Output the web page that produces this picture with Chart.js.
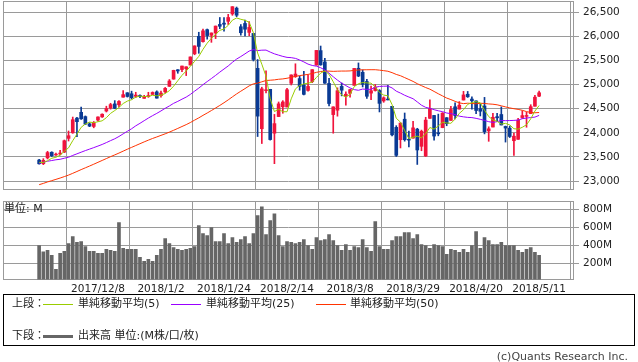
<!DOCTYPE html>
<html>
<head>
<meta charset="utf-8">
<script src="https://cdn.jsdelivr.net/npm/chart.js@4.4.1/dist/chart.umd.min.js"></script>
<style>
  body { margin: 0; background: #fff; width: 638px; height: 362px; position: relative; overflow: hidden;
         font-family: "DejaVu Sans", "Noto Sans CJK JP", sans-serif; color: #222; }
  canvas { position: absolute; left: 0; }
  #price { top: 0; }
  #volume { top: 195px; }
  .txt { position: absolute; font-size: 11px; line-height: 14px; white-space: nowrap; }
  .swatch { position: absolute; }
  #legend { position: absolute; left: 3px; top: 294px; width: 630px; height: 50px; border: 1px solid #000; }
</style>
</head>
<body>
<canvas id="price" width="638" height="195"></canvas>
<canvas id="volume" width="638" height="100"></canvas>
<div class="txt" style="left:4px;top:202px;">単位: M</div>

<div id="legend"></div>
<div class="txt" style="left:12px;top:297px;">上段：</div>
<div class="swatch" style="left:43px;top:304px;width:30px;height:1px;background:#99cc00;"></div>
<div class="txt" style="left:78px;top:297px;">単純移動平均(5)</div>
<div class="swatch" style="left:171px;top:304px;width:30px;height:1px;background:#9900ff;"></div>
<div class="txt" style="left:206px;top:297px;">単純移動平均(25)</div>
<div class="swatch" style="left:316px;top:304px;width:30px;height:1px;background:#ff3300;"></div>
<div class="txt" style="left:350px;top:297px;">単純移動平均(50)</div>
<div class="txt" style="left:12px;top:329px;">下段：</div>
<div class="swatch" style="left:43px;top:335px;width:30px;height:3px;background:#666;"></div>
<div class="txt" style="left:78px;top:329px;">出来高 単位:(M株/口/枚)</div>
<div class="txt" style="right:10px;top:350px;color:#444;">(c)Quants Research Inc.</div>

<script>
var dates = [
  '2017/11/17','2017/11/20','2017/11/21','2017/11/22','2017/11/24','2017/11/27','2017/11/28','2017/11/29','2017/11/30',
  '2017/12/1','2017/12/4','2017/12/5','2017/12/6','2017/12/7','2017/12/8','2017/12/11','2017/12/12','2017/12/13',
  '2017/12/14','2017/12/15','2017/12/18','2017/12/19','2017/12/20','2017/12/21','2017/12/22','2017/12/26','2017/12/27',
  '2017/12/28','2017/12/29','2018/1/2','2018/1/3','2018/1/4','2018/1/5','2018/1/8','2018/1/9','2018/1/10','2018/1/11',
  '2018/1/12','2018/1/16','2018/1/17','2018/1/18','2018/1/19','2018/1/22','2018/1/23','2018/1/24','2018/1/25','2018/1/26',
  '2018/1/29','2018/1/30','2018/1/31','2018/2/1','2018/2/2','2018/2/5','2018/2/6','2018/2/7','2018/2/8','2018/2/9',
  '2018/2/12','2018/2/13','2018/2/14','2018/2/15','2018/2/16','2018/2/20','2018/2/21','2018/2/22','2018/2/23','2018/2/26',
  '2018/2/27','2018/2/28','2018/3/1','2018/3/2','2018/3/5','2018/3/6','2018/3/7','2018/3/8','2018/3/9','2018/3/12',
  '2018/3/13','2018/3/14','2018/3/15','2018/3/16','2018/3/19','2018/3/20','2018/3/21','2018/3/22','2018/3/23','2018/3/26',
  '2018/3/27','2018/3/28','2018/3/29','2018/4/2','2018/4/3','2018/4/4','2018/4/5','2018/4/6','2018/4/9','2018/4/10',
  '2018/4/11','2018/4/12','2018/4/13','2018/4/16','2018/4/17','2018/4/18','2018/4/19','2018/4/20','2018/4/23','2018/4/24',
  '2018/4/25','2018/4/26','2018/4/27','2018/4/30','2018/5/1','2018/5/2','2018/5/3','2018/5/4','2018/5/7','2018/5/8',
  '2018/5/9','2018/5/10','2018/5/11'
];

var open = [
  23435,23359,23480,23597,23540,23560,23600,23885,24000,24305,24425,24336,24186,24132,24264,24330,24452,24515,24600,24582,
  24739,24830,24810,24757,24775,24715,24750,24796,24849,24770,24850,24964,25114,25308,25312,25331,25406,25638,26000,25890,
  26140,26022,26070,26248,26275,26313,26466,26585,26200,26268,26083,26061,25337,24085,24875,24902,23992,24337,24540,24535,
  25027,25165,25125,24990,24880,25062,25404,25705,25470,25025,24378,24469,24963,24765,24819,24985,25339,25254,25064,24823,
  24877,24877,24661,24700,24550,24113,23857,24282,23866,23890,24076,23720,23520,24300,24360,24000,24108,24313,24257,24540,
  24492,24680,24800,24700,24662,24500,24557,24040,24120,24335,24380,24132,24097,23836,23865,24317,24341,24399,24551,24760
];
var high = [
  23452,23464,23617,23607,23578,23638,23851,24038,24327,24322,24534,24350,24208,24235,24330,24396,24552,24613,24668,24671,
  24876,24833,24864,24841,24790,24778,24841,24849,24871,24864,24941,25105,25299,25311,25386,25370,25575,25804,26086,26154,
  26153,26072,26215,26392,26392,26458,26617,26609,26246,26338,26306,26062,25520,24946,25285,24903,24382,24640,24667,24924,
  25203,25432,25179,25273,25201,25310,25709,25800,25543,25130,24540,24933,25033,24852,24903,25336,25449,25305,25109,24968,
  25003,24896,24747,24984,24550,24148,24205,24411,24034,24237,24094,24057,24322,24683,24363,24388,24419,24316,24549,24622,
  24648,24860,24858,24747,24663,24602,24735,24125,24403,24406,24538,24140,24140,23997,24300,24457,24429,24583,24776,24868
];
var low = [
  23350,23340,23458,23508,23530,23539,23590,23830,23990,23922,24276,24174,24128,24104,24241,24321,24432,24491,24499,24535,
  24739,24741,24701,24733,24728,24715,24735,24794,24719,24741,24825,24963,25112,25235,25266,25187,25406,25619,25649,25878,
  25943,25877,25954,26159,26107,26246,26437,26408,26025,26009,26014,25490,23923,23778,24830,23849,23360,24337,24406,24535,
  24992,25149,24884,24784,24862,25040,25404,25401,25025,24560,23992,24345,24766,24576,24738,24985,25164,24951,24714,24689,
  24865,24433,24633,24680,23938,23509,23686,23827,23707,23890,23344,23628,23509,24300,23849,23938,24104,24147,24257,24290,
  24492,24680,24734,24490,24397,24350,23978,23824,24120,24237,24163,23808,23902,23531,23865,24298,24116,24399,24551,24751
];
var close = [
  23358,23430,23590,23526,23558,23580,23836,23940,24272,24231,24290,24180,24140,24211,24329,24386,24504,24585,24508,24651,
  24792,24754,24726,24782,24754,24746,24774,24837,24719,24824,24922,25075,25295,25283,25385,25369,25574,25803,25792,26115,
  26017,26071,26214,26210,26252,26392,26616,26439,26076,26149,26186,25521,24346,24912,24893,23860,24191,24601,24640,24893,
  25200,25219,24964,24798,24962,25310,25709,25410,25029,24608,24538,24874,24884,24801,24895,25336,25178,25007,24758,24873,
  24946,24611,24727,24683,23958,23533,24202,23857,23849,24103,23644,24033,24264,24505,23933,23979,24408,24189,24483,24360,
  24573,24786,24748,24665,24463,24448,24024,24083,24322,24311,24163,24099,23924,23930,24263,24357,24360,24542,24739,24831
];
var ma5 = [
  23387,23385,23421,23472,23492,23537,23618,23688,23837,23972,24114,24183,24223,24210,24230,24249,24314,24403,24462,24527,
  24608,24658,24686,24741,24762,24752,24756,24779,24766,24780,24815,24875,24967,25080,25192,25281,25381,25483,25585,25731,
  25860,25960,26042,26125,26153,26228,26337,26382,26355,26334,26293,26074,25656,25423,25172,24706,24440,24491,24437,24437,
  24705,24911,24983,25015,25029,25051,25149,25238,25284,25213,25059,24892,24787,24741,24798,24958,25019,25043,25035,25030,
  24952,24839,24783,24768,24585,24302,24221,24047,23880,23909,23931,23897,23979,24110,24076,24143,24218,24203,24198,24284,
  24403,24478,24590,24626,24647,24622,24470,24337,24268,24238,24181,24196,24164,24085,24076,24115,24167,24290,24452,24566
];
var ma25 = [
  23371,23390,23410,23425,23441,23451,23473,23493,23531,23564,23598,23631,23662,23693,23725,23759,23797,23838,23876,23924,
  23979,24032,24084,24145,24197,24252,24306,24356,24403,24454,24508,24557,24611,24652,24698,24741,24797,24864,24927,24998,
  25063,25126,25191,25259,25323,25387,25462,25530,25582,25638,25696,25725,25706,25714,25716,25674,25638,25611,25585,25565,
  25559,25544,25511,25471,25425,25397,25382,25350,25303,25237,25163,25093,25031,24980,24930,24896,24882,24908,24902,24902,
  24945,24962,24967,24969,24931,24864,24824,24779,24742,24707,24641,24573,24528,24507,24480,24457,24439,24411,24398,24377,
  24346,24331,24320,24316,24300,24280,24257,24231,24216,24231,24256,24252,24254,24258,24264,24293,24306,24317,24326,24362
];
var ma50 = [
  22924,22951,22981,23008,23035,23062,23092,23123,23160,23198,23237,23274,23311,23349,23388,23427,23466,23505,23542,23580,
  23620,23660,23698,23736,23774,23812,23848,23883,23914,23947,23979,24015,24052,24091,24131,24170,24214,24263,24310,24362,
  24411,24462,24515,24568,24624,24683,24746,24807,24863,24917,24974,25016,25031,25058,25085,25091,25098,25111,25118,25132,
  25150,25171,25187,25199,25212,25230,25254,25271,25281,25280,25275,25278,25281,25281,25284,25296,25304,25307,25308,25309,
  25309,25300,25289,25277,25248,25211,25184,25145,25106,25066,25019,24978,24939,24905,24858,24810,24766,24721,24689,24653,
  24621,24606,24614,24609,24601,24613,24609,24599,24593,24581,24560,24538,24517,24500,24486,24467,24440,24422,24416,24421
];
// volume in millions
var volume = [
  396,326,341,285,130,307,330,418,496,430,441,385,330,330,307,307,352,341,330,652,
  363,352,352,352,263,219,241,219,285,352,474,418,374,352,341,352,363,385,618,529,
  507,596,441,441,529,418,485,430,463,496,418,529,729,829,518,674,751,507,385,441,
  430,418,430,463,396,352,485,452,463,518,452,396,341,407,341,385,374,463,374,330,
  663,385,352,352,452,496,496,541,541,474,518,407,396,363,407,396,385,296,352,341,
  319,352,319,396,552,363,485,452,407,407,430,396,396,396,341,319,352,374,319,285
];
var tickLabels = ['2017/12/8','2018/1/2','2018/1/24','2018/2/14','2018/3/8','2018/3/29','2018/4/20','2018/5/11'];
var priceTicks = [23000, 23500, 24000, 24500, 25000, 25500, 26000, 26500];
var volumeTicks = [200, 400, 600, 800];

var GRID = '#9a9a9a';
var UP = '#f0143c';
var DOWN = '#0a3a94';
var tickIdx = tickLabels.map(function (l) { return dates.indexOf(l); });

Chart.defaults.font.family = '"DejaVu Sans", "Noto Sans CJK JP", sans-serif';
Chart.defaults.color = '#222';

var frame = {
  id: 'frame',
  beforeDatasetsDraw: function (chart) {
    var a = chart.chartArea, ctx = chart.ctx;
    ctx.save();
    ctx.strokeStyle = GRID;
    ctx.lineWidth = 1;
    ctx.strokeRect(Math.round(a.left) + 0.5, Math.round(a.top) + 0.5,
                   Math.round(a.right) - Math.round(a.left) - 1, Math.round(a.bottom) - Math.round(a.top) - 1);
    ctx.restore();
  }
};

function xScale(showLabels) {
  return {
    type: 'linear', min: -8.6, max: 127.3, offset: false,
    afterBuildTicks: function (s) { s.ticks = tickIdx.map(function (v) { return { value: v }; }); },
    afterFit: function (s) { s.height = showLabels ? 15.5 : 0; s.paddingLeft = 0; s.paddingRight = 0; },
    grid: { color: GRID, drawTicks: false },
    border: { display: false },
    ticks: {
      display: showLabels, autoSkip: false, maxRotation: 0, padding: 3,
      font: { size: 10.5 }, color: '#222',
      callback: function (v) { return tickLabels[tickIdx.indexOf(v)]; }
    }
  };
}

function yScale(min, max, values, fmt) {
  return {
    position: 'right', min: min, max: max,
    afterBuildTicks: function (s) { s.ticks = values.map(function (v) { return { value: v }; }); },
    afterFit: function (s) { s.width = 64; s.paddingTop = 0; s.paddingBottom = 0; },
    grid: { color: GRID, tickLength: 5 },
    border: { display: false },
    ticks: { padding: 4, font: { size: 10.5 }, color: '#222', callback: fmt }
  };
}

var candleColors = close.map(function (c, i) { return c >= open[i] ? UP : DOWN; });

function pts(arr) { return arr.map(function (v, i) { return { x: i, y: v }; }); }

new Chart(document.getElementById('price'), {
  type: 'bar',
  data: {
    datasets: [
      { type: 'line', data: pts(ma5), borderColor: '#99cc00', borderWidth: 1, pointRadius: 0, order: 0 },
      { type: 'line', data: pts(ma25), borderColor: '#9900ff', borderWidth: 1, pointRadius: 0, order: 0 },
      { type: 'line', data: pts(ma50), borderColor: '#ff3300', borderWidth: 1, pointRadius: 0, order: 0 },
      {
        data: open.map(function (o, i) { return { x: i, y: [o, close[i]] }; }),
        backgroundColor: candleColors, barThickness: 3, grouped: false, order: 1
      },
      {
        data: low.map(function (l, i) { return { x: i, y: [l, high[i]] }; }),
        backgroundColor: candleColors, barThickness: 1, grouped: false, order: 2
      }
    ]
  },
  options: {
    responsive: false,
    animation: false,
    devicePixelRatio: 1,
    layout: { padding: { left: 3, top: 1, right: 0, bottom: 5 } },
    plugins: { legend: { display: false }, tooltip: { enabled: false } },
    scales: {
      x: xScale(false),
      y: yScale(22814, 26734, priceTicks, function (v) { return v.toLocaleString('en-US'); })
    }
  },
  plugins: [frame]
});

new Chart(document.getElementById('volume'), {
  type: 'bar',
  data: {
    datasets: [{
      data: volume.map(function (v, i) { return { x: i, y: v }; }),
      backgroundColor: '#666666', barThickness: 3
    }]
  },
  options: {
    responsive: false,
    animation: false,
    devicePixelRatio: 1,
    layout: { padding: { left: 3, top: 6, right: 0, bottom: 0 } },
    plugins: { legend: { display: false }, tooltip: { enabled: false } },
    scales: {
      x: xScale(true),
      y: yScale(16, 893, volumeTicks, function (v) { return v + 'M'; })
    }
  },
  plugins: [frame]
});
</script>
</body>
</html>
